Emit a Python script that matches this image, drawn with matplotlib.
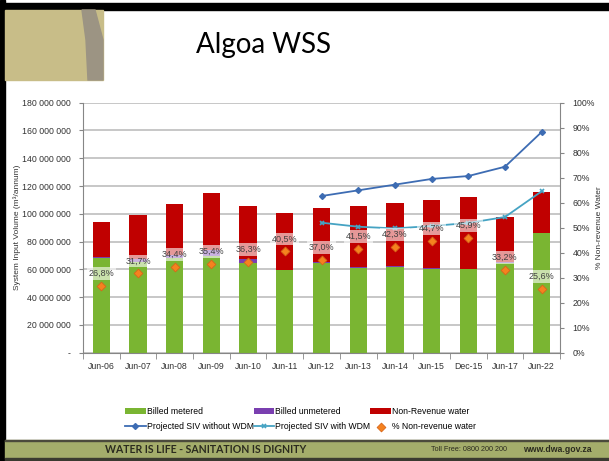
import numpy as np
import matplotlib
matplotlib.use('Agg')
import matplotlib.pyplot as plt
from matplotlib.patches import Rectangle, Polygon
from matplotlib.ticker import FuncFormatter, MultipleLocator

plt.rcParams['font.family'] = ['Liberation Sans', 'DejaVu Sans']

##########################################################
# data (volumes in million m3 per annum)
##########################################################
categories = ['Jun-06', 'Jun-07', 'Jun-08', 'Jun-09', 'Jun-10', 'Jun-11', 'Jun-12',
              'Jun-13', 'Jun-14', 'Jun-15', 'Dec-15', 'Jun-17', 'Jun-22']
billed_metered = [68.0, 65.0, 68.5, 69.5, 64.8, 59.2, 64.9, 61.2, 61.5, 60.1, 60.3, 64.8, 86.0]
billed_unmetered = [0.7, 2.5, 1.9, 4.6, 2.4, 0.5, 0.7, 0.7, 0.7, 0.6, 0.2, 0.3, 0.1]
non_revenue = [25.2, 31.4, 36.9, 40.6, 38.6, 40.7, 38.5, 43.9, 45.6, 49.0, 51.4, 32.4, 29.6]
pct_nrw = [26.8, 31.7, 34.4, 35.4, 36.3, 40.5, 37.0, 41.5, 42.3, 44.7, 45.9, 33.2, 25.6]
proj_cats = ['Jun-12', 'Jun-13', 'Jun-14', 'Jun-15', 'Dec-15', 'Jun-17', 'Jun-22']
siv_without_wdm = [112.8, 116.9, 121.0, 125.1, 127.2, 133.9, 158.9]
siv_with_wdm = [93.6, 90.7, 89.5, 91.2, 93.4, 97.7, 116.2]

W, H = 609, 461
fig = plt.figure(figsize=(W/100, H/100), dpi=100)

def px(x, y):  # slide pixel -> figure fraction
    return x/W, 1 - y/H

##########################################################
# slide decoration
##########################################################
fig.add_artist(Rectangle(px(0, 10), 1, 7/H, transform=fig.transFigure, color='black', zorder=0))
fig.add_artist(Rectangle(px(0, 461), 5/W, 1, transform=fig.transFigure, color='black', zorder=0))
fig.add_artist(Rectangle(px(5, 80), 98/W, 70/H, transform=fig.transFigure, color='#c8bd88', zorder=0))
fig.add_artist(Polygon([px(82, 10), px(95, 10), px(103, 40), px(103, 80), px(88, 80), px(86, 40)],
                       closed=True, transform=fig.transFigure, color='#9c9483', zorder=0))
fig.add_artist(Rectangle(px(5, 458), 1, 18/H, transform=fig.transFigure, color='#a4ad6b', zorder=0))
fig.add_artist(Rectangle(px(5, 441), 1, 1.5/H, transform=fig.transFigure, color='#4b4a3c', zorder=0))
fig.add_artist(Rectangle(px(5, 461), 1, 3/H, transform=fig.transFigure, color='#3a3a30', zorder=0))

fig.text(*px(263, 45), 'Algoa WSS', ha='center', va='center', fontsize=20, family=['Lato', 'DejaVu Sans'])
fig.text(*px(206, 449), 'WATER IS LIFE - SANITATION IS DIGNITY', ha='center', va='center',
         fontsize=7.6, fontweight='bold', color='#2b2b1f', family=['Lato', 'DejaVu Sans'])
fig.text(*px(469, 449), 'Toll Free: 0800 200 200', ha='center', va='center', fontsize=5.2, color='#2b2b1f')
fig.text(*px(557, 449), 'www.dwa.gov.za', ha='center', va='center', fontsize=6.3, fontweight='bold',
         color='#2b2b1f')

##########################################################
# chart
##########################################################
l, b = px(83, 352.7)
r, t = px(560, 102.7)
ax = fig.add_axes([l, b, r-l, t-b])
x = np.arange(len(categories))
bw = 0.47
bm = np.array(billed_metered)*1e6
bu = np.array(billed_unmetered)*1e6
nr = np.array(non_revenue)*1e6
ax.bar(x, bm, bw, color='#7ab532', label='Billed metered', zorder=2)
ax.bar(x, bu, bw, bottom=bm, color='#7a3fb0', label='Billed unmetered', zorder=2)
ax.bar(x, nr, bw, bottom=bm+bu, color='#c00000', label='Non-Revenue water', zorder=2)

px_idx = [categories.index(c) for c in proj_cats]
ax.plot(px_idx, np.array(siv_without_wdm)*1e6, color='#3d6cb3', marker='D', markersize=3,
        lw=1.3, label='Projected SIV without WDM', zorder=3)
ax.plot(px_idx, np.array(siv_with_wdm)*1e6, color='#45a3c3', marker='x', markersize=3.5,
        mew=1.2, lw=1.3, label='Projected SIV with WDM', zorder=3)

ax.set_xlim(-0.5, len(categories)-0.5)
ax.set_ylim(0, 180e6)
ax.yaxis.set_major_locator(MultipleLocator(20e6))
ax.yaxis.set_major_formatter(FuncFormatter(lambda v, p: '-' if v == 0 else f'{int(round(v)):,}'.replace(',', ' ')))
ax.set_xticks(x)
ax.set_xticklabels(categories)
ax.set_xticks(np.arange(-0.5, len(categories)), minor=True)
ax.tick_params(axis='x', which='major', length=0, labelsize=6.3, pad=7, colors='#333333')
ax.tick_params(axis='x', which='minor', length=4, color='#868686')
ax.tick_params(axis='y', length=3, color='#868686', labelsize=6.3, labelcolor='#333333', pad=6)
ax.grid(axis='y', color='#c3c3c3', lw=1.3)
ax.set_axisbelow(True)
for s in ['top', 'right']:
    ax.spines[s].set_visible(False)
for s in ['left', 'bottom']:
    ax.spines[s].set_color('#868686')
ax.set_ylabel('System Input Volume (m\u00b3/annum)', fontsize=6, color='#333333')
ax.yaxis.set_label_coords(-0.13, 0.5)

ax2 = ax.twinx()
ax2.scatter(x, pct_nrw, marker='D', s=20, color='#f5821f', edgecolor='#d8661a', lw=0.6,
            label='% Non-revenue water', zorder=5)
for xi, p in zip(x, pct_nrw):
    ax2.annotate(f'{p:.1f}%'.replace('.', ','), (xi, p), xytext=(0, 9), textcoords='offset points',
                 ha='center', va='center', fontsize=6.5, color='#404040', zorder=6,
                 bbox=dict(boxstyle='square,pad=0.2', facecolor='white', edgecolor='none', alpha=0.6))
ax2.set_ylim(0, 100)
ax2.yaxis.set_major_locator(MultipleLocator(10))
ax2.yaxis.set_major_formatter(FuncFormatter(lambda v, p: f'{int(v)}%'))
ax2.tick_params(axis='y', length=3, color='#868686', labelsize=6.3, labelcolor='#333333', pad=6)
for s in ['top', 'left', 'bottom']:
    ax2.spines[s].set_visible(False)
ax2.spines['right'].set_color('#868686')
ax2.set_ylabel('% Non-revenue Water', fontsize=6, color='#333333', rotation=90)
ax2.yaxis.set_label_coords(1.075, 0.5)

h1, l1 = ax.get_legend_handles_labels()
h2, l2 = ax2.get_legend_handles_labels()
# row-major order in 3 columns: bars on first row, lines + markers on second
handles = [h1[2], h1[0], h1[3], h1[1], h1[4], h2[0]]
labels = [l1[2], l1[0], l1[3], l1[1], l1[4], l2[0]]
fig.legend(handles, labels, ncol=3, loc='upper left', bbox_to_anchor=px(125, 407),
           frameon=False, fontsize=6.2, handlelength=2.4, handletextpad=0.1, columnspacing=0.0,
           labelspacing=0.75, borderaxespad=0, borderpad=0)

fig.savefig('out.png', dpi=100)
